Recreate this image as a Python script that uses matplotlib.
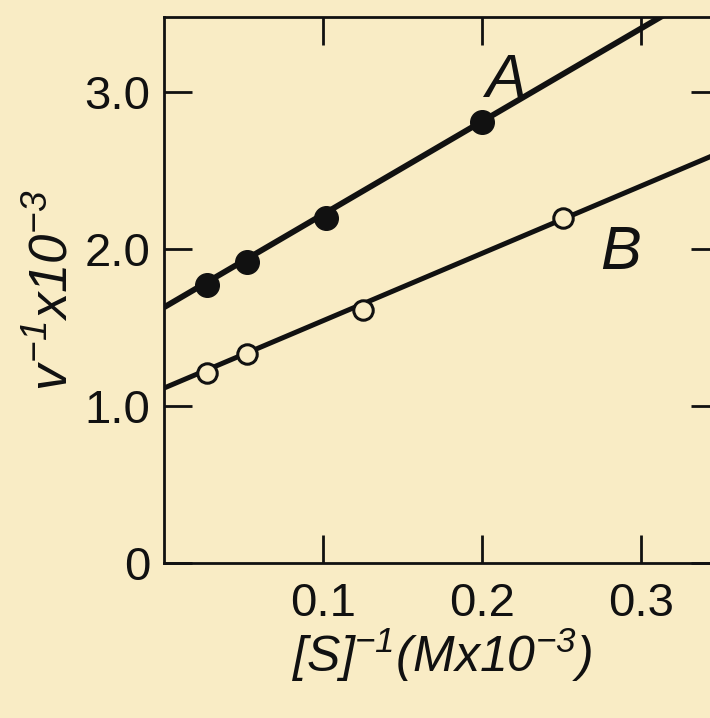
import matplotlib

matplotlib.use("Agg")
import matplotlib.pyplot as plt  # noqa: E402

PAPER = "#f9ecc5"
INK = "#111111"

# Lineweaver-Burk data
s_inv_A = [0.027, 0.052, 0.102, 0.200]
v_inv_A = [1.77, 1.92, 2.20, 2.81]
s_inv_B = [0.027, 0.052, 0.125, 0.251]
v_inv_B = [1.21, 1.33, 1.61, 2.20]

# fitted lines (end points)
fit_x = [0.0, 0.349]
fit_A = [1.63, 3.70]
fit_B = [1.115, 2.615]

x_ticks = [0.1, 0.2, 0.3]
x_ticklabels = ["0.1", "0.2", "0.3"]
y_ticks = [0, 1, 2, 3]
y_ticklabels = ["0", "1.0", "2.0", "3.0"]

plt.rcParams.update({
    "font.family": ["Liberation Sans", "DejaVu Sans"],
    # axis titles are set in italic throughout, brackets and digits included
    "mathtext.fontset": "custom",
    "mathtext.rm": "Liberation Sans:italic",
    "mathtext.it": "Liberation Sans:italic",
})

fig = plt.figure(figsize=(7.10, 7.18), dpi=100, facecolor=PAPER)
ax = fig.add_axes([0.231, 0.216, 0.782, 0.760])
ax.set_facecolor(PAPER)

ax.plot(fit_x, fit_A, color=INK, linewidth=4.2, solid_capstyle="butt", zorder=2)
ax.plot(fit_x, fit_B, color=INK, linewidth=3.6, solid_capstyle="butt", zorder=2)
ax.plot(s_inv_A, v_inv_A, linestyle="none", marker="o", markersize=17,
        color=INK, zorder=3)
ax.plot(s_inv_B, v_inv_B, linestyle="none", marker="o", markersize=14,
        markerfacecolor=PAPER, markeredgecolor=INK, markeredgewidth=2.2, zorder=3)

ax.set_xlim(0, 0.349)
ax.set_ylim(0, 3.48)

ax.set_xticks(x_ticks)
ax.set_xticklabels(x_ticklabels)
ax.set_yticks(y_ticks)
ax.set_yticklabels(y_ticklabels)
ax.tick_params(direction="in", length=20, width=2, color=INK, labelsize=34,
               top=True, right=True, labelcolor=INK)
ax.tick_params(axis="x", pad=14)
ax.tick_params(axis="y", pad=10)
for side in ax.spines.values():
    side.set_linewidth(2)
    side.set_color(INK)

ax.text(0.2145, 2.97, "A", fontsize=44, style="italic", color=INK, ha="center", va="baseline")
ax.text(0.287, 1.875, "B", fontsize=44, style="italic", color=INK, ha="center", va="baseline")

ax.set_xlabel(r"$[S]^{-1}(M\mathit{x}10^{-3})$", fontsize=36, color=INK, labelpad=0)
ax.set_ylabel(r"$v^{-1}\mathit{x}10^{-3}$", fontsize=38, color=INK, labelpad=4)

fig.savefig("out.png", dpi=100, facecolor=PAPER)
